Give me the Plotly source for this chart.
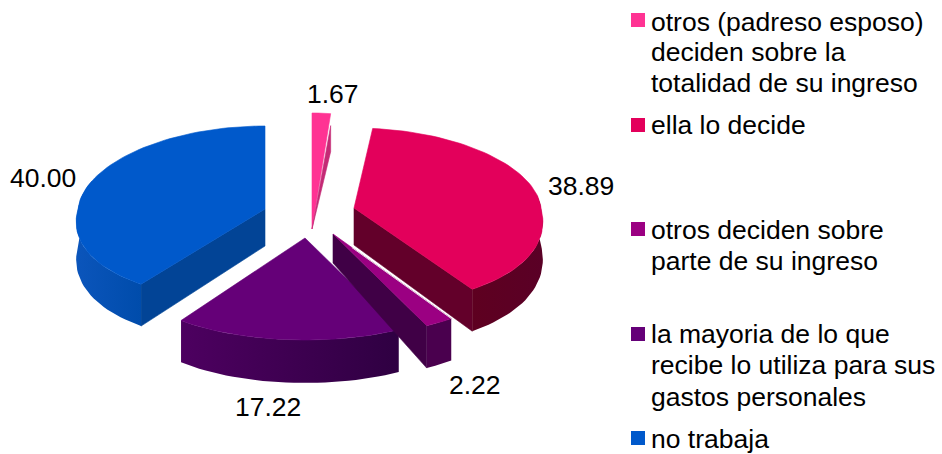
import math
import plotly.graph_objects as go

# ---- data ----
categories = [
    "otros (padreso esposo) deciden sobre la totalidad de su ingreso",
    "ella lo decide",
    "otros deciden sobre parte de su ingreso",
    "la mayoria de lo que recibe lo utiliza para sus gastos personales",
    "no trabaja",
]
values = [1.67, 38.89, 2.22, 17.22, 40.00]
legend_lines = [
    ["otros (padreso esposo)", "deciden sobre la", "totalidad de su ingreso"],
    ["ella lo decide"],
    ["otros deciden sobre", "parte de su ingreso"],
    ["la mayoria de lo que", "recibe lo utiliza para sus", "gastos personales"],
    ["no trabaja"],
]

# ---- style / layout ----
colors = ["#FF3393", "#E3005B", "#9B0082", "#650078", "#0059CB"]
FONT = "Liberation Sans, Arial, sans-serif"
FS = 26.5
TXT = "#000000"
RX, K_FRONT, K_BACK = 187, 0.14, 0.05
exploded = [  # centre of each exploded slice on the page and its back/front radius
    dict(cx=312, cy=229, ryb=116, ryf=102),
    dict(cx=354, cy=208, ryb=80, ryf=98),
    dict(cx=333, cy=234, ryb=82, ryf=102),
    dict(cx=305, cy=238, ryb=82, ryf=102),
    dict(cx=265, cy=209, ryb=83, ryf=93),
]
label_pos = [(333, 94), (581, 186), (475, 385), (268, 407), (43, 178)]
legend_sq_y = [20, 125, 229, 334, 438]
legend_line_y = [[22, 52, 83], [125], [230, 261], [334, 365, 397], [439]]


def pt(e, deg, drop=0.0):
    a = math.radians(deg)
    u, v = math.sin(a), math.cos(a)
    s = 1 / (1 + (K_BACK if v > 0 else K_FRONT) * v)
    return (e["cx"] + RX * u * s,
            e["cy"] - (e["ryb"] if v > 0 else e["ryf"]) * v + drop)


def depth(deg):
    return 37 - 6 * math.cos(math.radians(deg))


fig = go.Figure()


def poly(points, color, lw=0.6, grad=None):
    xs = [p[0] for p in points] + [points[0][0]]
    ys = [p[1] for p in points] + [points[0][1]]
    kw = dict(fillcolor=color)
    if grad:
        kw = dict(fillgradient=dict(type="horizontal",
                                    colorscale=[[0, grad[0]], [1, grad[1]]]))
    fig.add_trace(go.Scatter(x=xs, y=ys, mode="lines", fill="toself",
                             line=dict(color=color, width=lw),
                             hoverinfo="skip", showlegend=False, **kw))


def top(e, a0, a1, color):
    n = max(2, int((a1 - a0) / 2))
    arc = [pt(e, a0 + (a1 - a0) * i / n) for i in range(n + 1)]
    poly([(e["cx"], e["cy"])] + arc, color)


def side_arc(e, a0, a1, left, right, step=2.0):
    n = max(1, int((a1 - a0) / step))
    degs = [a0 + (a1 - a0) * i / n for i in range(n + 1)]
    pts = [pt(e, d) for d in degs] + [pt(e, d, depth(d)) for d in reversed(degs)]
    poly(pts, left, lw=0, grad=(left, right))


def cut_face(e, deg, color, apex_drop=37):
    apex = (e["cx"], e["cy"])
    poly([apex, pt(e, deg), pt(e, deg, depth(deg)), (apex[0], apex[1] + apex_drop)], color)


# slice angles come from the values
total = sum(values)
edges = [0.0]
for val in values:
    edges.append(edges[-1] + 360 * val / total)

# blue
e = exploded[4]
cut_face(e, edges[4], "#024496")
side_arc(e, edges[4], 290, "#0B55BB", "#004CAB")
top(e, edges[4], edges[5], colors[4])

# pink sliver
e = exploded[0]
top(e, edges[0], edges[1], colors[0])
c = pt(e, edges[1])
poly([(e["cx"], e["cy"]), (c[0], c[1] + 12), (c[0], c[1] + 38)], "#C42A75")

# red
e = exploded[1]
cut_face(e, edges[2], "#63002A")
side_arc(e, 80, edges[2], "#5E0020", "#5A0026")
top(e, edges[1], edges[2], colors[1])

# dark purple
e = exploded[3]
side_arc(e, edges[3], edges[4], "#4D0060", "#2F0042")
top(e, edges[3], edges[4], colors[3])

# thin magenta
e = exploded[2]
cut_face(e, edges[3], "#400046", apex_drop=29)
side_arc(e, edges[2], edges[3], "#4A004E", "#4A004E")
top(e, edges[2], edges[3], colors[2])
p = pt(e, edges[2])
fig.add_trace(go.Scatter(x=[e["cx"] + (p[0] - e["cx"]) * 0.16, p[0]],
                         y=[e["cy"] + (p[1] - e["cy"]) * 0.16, p[1]],
                         mode="lines", line=dict(color="#E8D8E0", width=1),
                         hoverinfo="skip", showlegend=False))

# legend swatches
fig.add_trace(go.Scatter(x=[638] * len(colors), y=legend_sq_y, mode="markers",
                         marker=dict(symbol="square", size=14, color=colors,
                                     line=dict(width=0)),
                         hoverinfo="skip", showlegend=False))

annotations = []
for val, (lx, ly) in zip(values, label_pos):
    annotations.append(dict(x=lx, y=ly, xref="x", yref="y", text=f"{val:.2f}",
                            showarrow=False, xanchor="center", yanchor="middle",
                            font=dict(family=FONT, size=FS, color=TXT)))
for lines, ys in zip(legend_lines, legend_line_y):
    for line, ly in zip(lines, ys):
        annotations.append(dict(x=649, y=ly, xref="x", yref="y", text=line,
                                showarrow=False, xanchor="left", yanchor="middle",
                                font=dict(family=FONT, size=FS, color=TXT)))

fig.update_layout(
    width=942, height=454, margin=dict(l=0, r=0, t=0, b=0),
    paper_bgcolor="white", plot_bgcolor="white", showlegend=False,
    xaxis=dict(range=[0, 942], visible=False, fixedrange=True),
    yaxis=dict(range=[454, 0], visible=False, fixedrange=True),
    annotations=annotations,
)
fig.write_html("out.html", config={"displayModeBar": False},
               post_script="document.body.style.margin='0';document.body.style.overflow='hidden';")
